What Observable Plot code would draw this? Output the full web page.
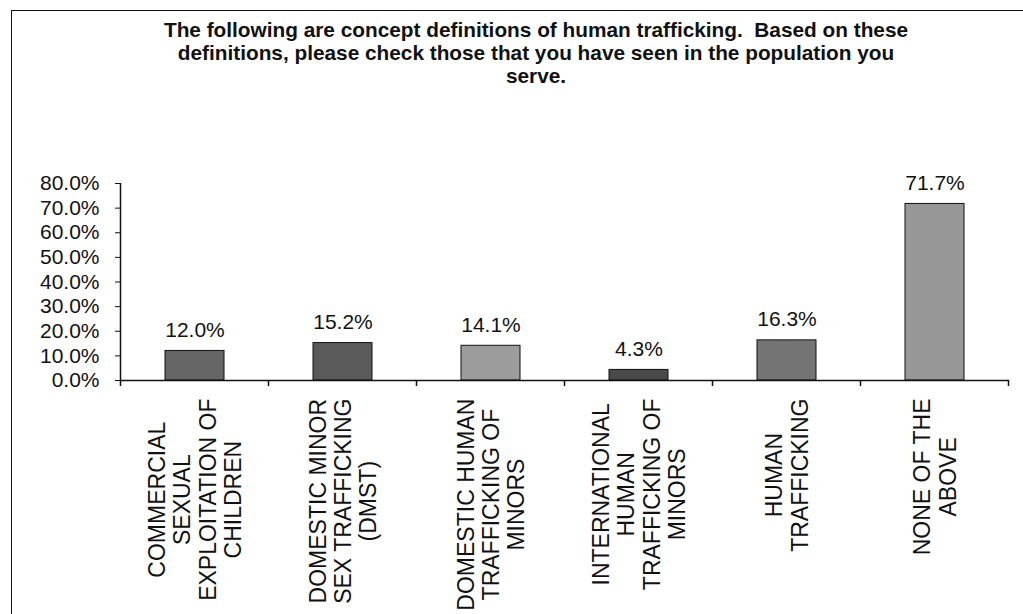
<!DOCTYPE html>
<html><head><meta charset="utf-8">
<script src="https://cdn.jsdelivr.net/npm/d3@7"></script>
<script src="https://cdn.jsdelivr.net/npm/@observablehq/plot@0.6"></script>
<style>
body{margin:0;background:#fff;}
#wrap{position:relative;width:1023px;height:614px;overflow:hidden;font-family:"Liberation Sans",Arial,sans-serif;}
#frame{position:absolute;left:11px;top:10px;width:1030px;height:620px;border-left:1.5px solid #111;border-top:1.5px solid #111;}
#title{position:absolute;left:0;top:18px;width:1072px;text-align:center;font-family:"Liberation Sans Narrow","Arial Narrow","Liberation Sans",sans-serif;font-weight:bold;font-size:20.8px;line-height:23px;color:#111;}
#chart{position:absolute;left:0;top:0;}
</style></head><body>
<div id="wrap">
<div id="frame"></div>
<div id="chart"></div>
<div id="title">The following are concept definitions of human trafficking.&nbsp; Based on these<br>definitions, please check those that you have seen in the population you<br>serve.</div>
</div>
<script>
const categories = [
  "Commercial sexual exploitation of children",
  "Domestic minor sex trafficking (DMST)",
  "Domestic human trafficking of minors",
  "International human trafficking of minors",
  "Human trafficking",
  "None of the above"
];
const tickLabels = [
  "COMMERCIAL\nSEXUAL\nEXPLOITATION OF\nCHILDREN",
  "DOMESTIC MINOR\nSEX TRAFFICKING\n(DMST)",
  "DOMESTIC HUMAN\nTRAFFICKING OF\nMINORS",
  "INTERNATIONAL\nHUMAN\nTRAFFICKING OF\nMINORS",
  "HUMAN\nTRAFFICKING",
  "NONE OF THE\nABOVE"
];
const values = [12.0, 15.2, 14.1, 4.3, 16.3, 71.7];
const yTicks = [0, 10, 20, 30, 40, 50, 60, 70, 80];

const data = categories.map((c, i) => ({category: c, label: tickLabels[i], value: values[i]}));

const plot = Plot.plot({
  width: 1023, height: 614,
  marginLeft: 120, marginRight: 14, marginTop: 183, marginBottom: 234,
  style: {fontFamily: '"Liberation Sans", Arial, sans-serif', fontSize: "21px", color: "#111", background: "transparent"},
  x: {domain: categories, paddingInner: 0.6, paddingOuter: 0.3, axis: null},
  y: {domain: [0, 80], ticks: yTicks, tickFormat: d => d.toFixed(1) + "%", tickSize: 5, tickPadding: 16, label: null},
  color: {domain: categories, range: ["#666666", "#5a5a5a", "#9c9c9c", "#4a4a4a", "#747474", "#979797"]},
  marks: [
    Plot.barY(data, {x: "category", y: "value", fill: "category", stroke: "#111", strokeWidth: 1}),
    Plot.ruleY([0], {stroke: "#111", strokeWidth: 1.5}),
    Plot.text(data, {x: "category", y: "value", text: d => d.value.toFixed(1) + "%", lineAnchor: "bottom", dy: -14, fontSize: 21, fill: "#111"}),
    Plot.text(data, {x: "category", y: () => 0, text: "label", rotate: -90, textAnchor: "end", lineAnchor: "middle", dy: 18, fontSize: 23, lineHeight: 1.1, fill: "#111"})
  ]
});
document.getElementById("chart").appendChild(plot);

// axis line and category boundary ticks from the library's scales
const sx = plot.scale("x"), sy = plot.scale("y");
const gap = (sx.step - sx.bandwidth) / 2;
const bounds = categories.map(c => sx.apply(c) - gap);
bounds.push(bounds[bounds.length - 1] + sx.step);
const y0 = sy.apply(0), yTop = sy.apply(80);
const svg = d3.select(plot);
const g = svg.append("g").attr("stroke", "#111").attr("stroke-width", 1.5);
g.append("line").attr("x1", bounds[0]).attr("x2", bounds[0]).attr("y1", yTop).attr("y2", y0);
bounds.forEach(b => g.append("line").attr("x1", b).attr("x2", b).attr("y1", y0).attr("y2", y0 + 6));

// center each line of the rotated category labels, as in the original
svg.selectAll("text").each(function() {
  const tspans = Array.from(this.querySelectorAll("tspan"));
  if (!tspans.length) return;
  const maxLen = d3.max(tspans, t => t.getComputedTextLength());
  this.setAttribute("text-anchor", "middle");
  this.style.textAnchor = "middle";
  tspans.forEach(t => t.setAttribute("x", -maxLen / 2));
});
</script>
</body></html>
